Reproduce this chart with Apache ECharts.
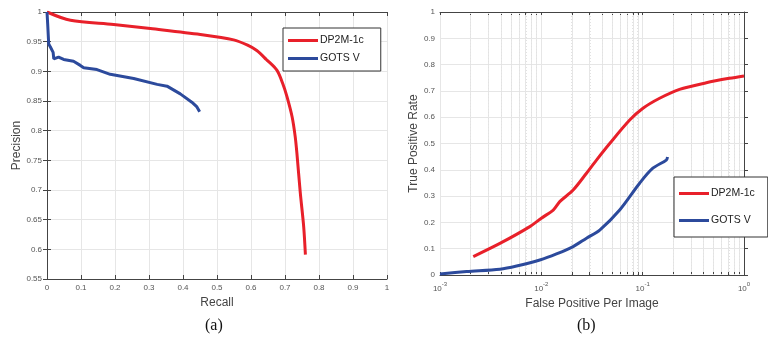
<!DOCTYPE html>
<html>
<head>
<meta charset="utf-8">
<script src="https://cdn.jsdelivr.net/npm/echarts@6/dist/echarts.min.js"></script>
<style>
  html, body { margin: 0; padding: 0; background: #fff; }
  #chart { width: 768px; height: 341px; }
</style>
</head>
<body>
<div id="chart"></div>
<script>
  // (a) precision / recall
  const prRedRecall = [0, 0.069, 0.196, 0.304, 0.451, 0.549, 0.59, 0.617, 0.645, 0.676, 0.693, 0.706, 0.721, 0.73, 0.735, 0.745, 0.755, 0.76];
  const prRedPrec = [1, 0.986, 0.979, 0.972, 0.962, 0.953, 0.944, 0.935, 0.92, 0.902, 0.88, 0.857, 0.823, 0.79, 0.762, 0.695, 0.638, 0.591];
  const prBlueRecall = [0, 0.002, 0.005, 0.01, 0.018, 0.02, 0.034, 0.049, 0.078, 0.098, 0.108, 0.147, 0.186, 0.255, 0.324, 0.353, 0.392, 0.426, 0.441, 0.449];
  const prBluePrec = [1, 0.98, 0.946, 0.941, 0.932, 0.921, 0.924, 0.92, 0.917, 0.91, 0.906, 0.903, 0.895, 0.888, 0.878, 0.875, 0.862, 0.848, 0.84, 0.832];

  // (b) TPR / FPPI
  const rocRedFppi = [0.00213, 0.0039, 0.0077, 0.01, 0.0131, 0.0152, 0.0206, 0.0279, 0.035, 0.0473, 0.0745, 0.1007, 0.147, 0.231, 0.425, 0.719, 1.0];
  const rocRedTpr = [0.07, 0.12, 0.184, 0.216, 0.247, 0.279, 0.323, 0.387, 0.437, 0.5, 0.589, 0.634, 0.672, 0.706, 0.731, 0.748, 0.757];
  const rocBlueFppi = [0.001, 0.00183, 0.0039, 0.0057, 0.00966, 0.0141, 0.0206, 0.0279, 0.0377, 0.0593, 0.0933, 0.126, 0.171, 0.176];
  const rocBlueTpr = [0.004, 0.013, 0.022, 0.034, 0.057, 0.08, 0.108, 0.14, 0.171, 0.247, 0.349, 0.406, 0.437, 0.449];

  const seriesNames = ["DP2M-1c", "GOTS V"];
  const decades = [-3, -2, -1, 0];

  const RED = "#e8202a";
  const BLUE = "#2c4a9c";
  const FONT = "'Liberation Sans', Arial, sans-serif";
  const AXIS = "#444";
  const GRID = "#e6e6e6";

  const minorLogs = [];
  decades.slice(0, 3).forEach((n) => {
    for (let k = 2; k <= 9; k++) minorLogs.push(n + Math.log10(k));
  });

  function zip(xs, ys, fx) {
    return xs.map((x, i) => [fx ? fx(x) : x, ys[i]]);
  }

  const tickLabel = { fontSize: 8, color: "#555", fontFamily: FONT };
  const axisLine = { show: true, lineStyle: { color: AXIS, width: 1 } };
  const tickIn = { show: true, inside: true, length: 4, lineStyle: { color: AXIS } };
  const splitLine = { show: true, lineStyle: { color: GRID, width: 1 } };
  const nameStyle = { fontSize: 12, color: "#444", fontFamily: FONT };
  const legendBase = {
    orient: "vertical", data: seriesNames, icon: "rect",
    itemWidth: 30, itemHeight: 3, z: 10,
    borderColor: "#333", borderWidth: 1, backgroundColor: "#fff",
    textStyle: { fontSize: 10.5, color: "#222", fontFamily: FONT, padding: [0, 0, 0, -3] }
  };

  const chart = echarts.init(document.getElementById("chart"));
  chart.setOption({
    animation: false,
    backgroundColor: "#fff",
    grid: [
      { left: 47, top: 12, width: 340, height: 267 },
      { left: 440, top: 12, width: 304, height: 263 }
    ],
    xAxis: [
      {
        gridIndex: 0, type: "value", min: 0, max: 1, interval: 0.1, position: "bottom",
        axisLine, axisTick: tickIn, splitLine,
        axisLabel: Object.assign({ margin: 5 }, tickLabel),
        name: "Recall", nameLocation: "middle", nameGap: 15, nameTextStyle: nameStyle
      },
      {
        gridIndex: 0, type: "value", min: 0, max: 1, interval: 0.1, position: "top",
        axisLine, axisTick: tickIn, splitLine: { show: false }, axisLabel: { show: false }
      },
      {
        gridIndex: 1, type: "value", min: -3, max: 0, interval: 1, position: "bottom",
        axisLine,
        axisTick: { show: true, inside: true, length: 3, lineStyle: { color: AXIS }, customValues: minorLogs.concat(decades) },
        splitLine,
        axisLabel: Object.assign({
          margin: 6,
          customValues: decades,
          formatter: (v) => "{b|10}{s|" + Math.round(v) + "}",
          rich: {
            b: { fontSize: 8, color: "#555", fontFamily: FONT, verticalAlign: "bottom", lineHeight: 12 },
            s: { fontSize: 6, color: "#555", fontFamily: FONT, verticalAlign: "top", lineHeight: 12 }
          }
        }, tickLabel),
        name: "False Positive Per Image", nameLocation: "middle", nameGap: 15, nameTextStyle: nameStyle
      },
      {
        gridIndex: 1, type: "value", min: -3, max: 0, interval: 1, position: "top",
        axisLine,
        axisTick: { show: true, inside: true, length: 3, lineStyle: { color: AXIS }, customValues: minorLogs.concat(decades) },
        splitLine: { show: false }, axisLabel: { show: false }
      }
    ],
    yAxis: [
      {
        gridIndex: 0, type: "value", min: 0.55, max: 1, interval: 0.05, position: "left",
        axisLine, axisTick: tickIn, splitLine,
        axisLabel: Object.assign({ margin: 5 }, tickLabel),
        name: "Precision", nameLocation: "middle", nameGap: 21, nameTextStyle: nameStyle
      },
      {
        gridIndex: 0, type: "value", min: 0.55, max: 1, interval: 0.05, position: "right",
        axisLine, axisTick: tickIn, splitLine: { show: false }, axisLabel: { show: false }
      },
      {
        gridIndex: 1, type: "value", min: 0, max: 1, interval: 0.1, position: "left",
        axisLine, axisTick: tickIn, splitLine,
        axisLabel: Object.assign({ margin: 5 }, tickLabel),
        name: "True Positive Rate", nameLocation: "middle", nameGap: 13, nameTextStyle: nameStyle
      }
    ],
    legend: [
      Object.assign({ left: 283, top: 28, itemGap: 7, padding: [7, 17, 7, 5] }, legendBase),
      Object.assign({ left: 674, top: 177, itemGap: 16, padding: [11, 13, 11, 5] }, legendBase)
    ],
    graphic: [
      { type: "text", left: 205, top: 318, style: { text: "(a)", fontSize: 16, fontFamily: "'Liberation Serif', 'Times New Roman', serif", fill: "#111" } },
      { type: "text", left: 577, top: 318, style: { text: "(b)", fontSize: 16, fontFamily: "'Liberation Serif', 'Times New Roman', serif", fill: "#111" } }
    ],
    series: [
      {
        name: "minor", type: "line", xAxisIndex: 2, yAxisIndex: 2, data: [], silent: true, z: 1,
        markLine: {
          silent: true, z: 1, symbol: ["none", "none"], label: { show: false },
          lineStyle: { type: [1, 2], color: "#e2e2e2", width: 1 },
          data: minorLogs.map((v) => ({ xAxis: v }))
        }
      },
      {
        name: seriesNames[0], type: "line", xAxisIndex: 0, yAxisIndex: 0, showSymbol: false, symbol: "none",
        smooth: 0.3, data: zip(prRedRecall, prRedPrec), color: RED, lineStyle: { width: 3, color: RED }, z: 3
      },
      {
        name: seriesNames[1], type: "line", xAxisIndex: 0, yAxisIndex: 0, showSymbol: false, symbol: "none",
        data: zip(prBlueRecall, prBluePrec), color: BLUE, lineStyle: { width: 3, color: BLUE }, z: 3
      },
      {
        name: seriesNames[0], type: "line", xAxisIndex: 2, yAxisIndex: 2, showSymbol: false, symbol: "none",
        smooth: 0.3, data: zip(rocRedFppi, rocRedTpr, Math.log10), color: RED, lineStyle: { width: 3, color: RED }, z: 3
      },
      {
        name: seriesNames[1], type: "line", xAxisIndex: 2, yAxisIndex: 2, showSymbol: false, symbol: "none",
        smooth: 0.3, data: zip(rocBlueFppi, rocBlueTpr, Math.log10), color: BLUE, lineStyle: { width: 3, color: BLUE }, z: 3
      }
    ]
  });
</script>
</body>
</html>
